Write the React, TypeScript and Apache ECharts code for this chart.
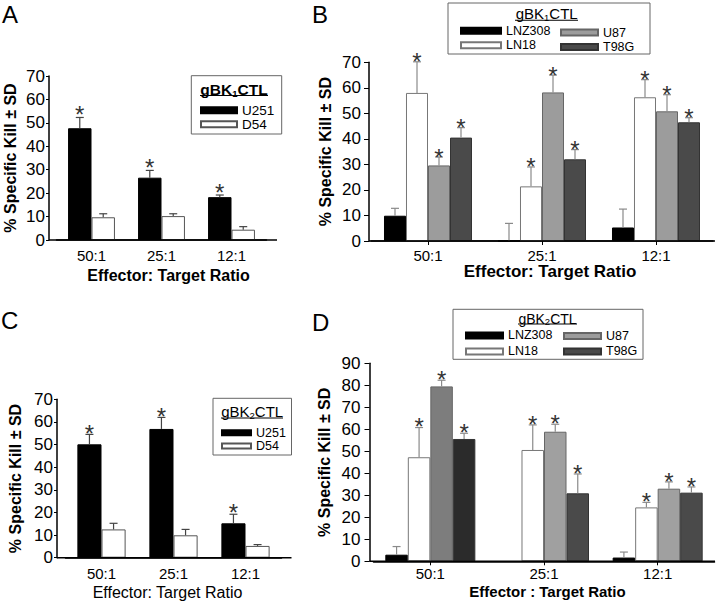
import React, { useEffect, useRef } from 'react';
import * as echarts from 'echarts';

// ---------- data ----------
const categories = ['50:1', '25:1', '12:1'];

// Panel A : gBK1CTL
const aU251 = [47.7, 26.6, 18.3];
const aU251Err = [4.6, 3.1, 0.9];
const aD54 = [9.7, 10.2, 4.4];
const aD54Err = [1.5, 1.0, 1.3];
const aSignificant = [true, false];

// Panel B : gBK1CTL
const bLNZ308 = [9.9, 0, 5.3];
const bLNZ308Err = [2.9, 6.9, 7.2];
const bLN18 = [58.0, 21.4, 56.3];
const bLN18Err = [12.2, 7.6, 6.9];
const bU87 = [29.6, 58.2, 50.8];
const bU87Err = [3.3, 6.8, 6.5];
const bT98G = [40.5, 32.0, 46.5];
const bT98GErr = [3.9, 3.8, 1.8];
const bSignificant = [false, true, true, true];

// Panel C : gBK2CTL
const cU251 = [50.1, 56.9, 15.2];
const cU251Err = [4.4, 5.1, 4.0];
const cD54 = [12.5, 9.9, 5.2];
const cD54Err = [2.7, 2.6, 0.6];
const cSignificant = [true, false];

// Panel D : gBK2CTL
const dLNZ308 = [3.0, null, 1.7];
const dLNZ308Err = [3.7, null, 2.5];
const dLN18 = [47.3, 50.6, 24.5];
const dLN18Err = [13.5, 11.4, 2.3];
const dU87 = [79.5, 58.9, 33.0];
const dU87Err = [2.8, 3.4, 3.1];
const dT98G = [55.6, 30.9, 31.2];
const dT98GErr = [2.6, 8.8, 2.6];
const dSignificant = [false, true, true, true];

const yTitle = '% Specific Kill ± SD';

// ---------- styling / layout ----------
const FONT = '"Liberation Sans", Arial, Helvetica, sans-serif';

type S = {
  name: string;
  values: (number | null)[];
  errs: (number | null)[];
  star: boolean;
  color: string;
  border: string;
  pointColors?: (string | null)[];
};

const panels: any[] = [
  {
    grid: { left: 56.5, top: 76, width: 210, height: 164 },
    yOffset: 7.5, yMax: 70, gap: 0.33, tickLen: 3, yLabelMargin: 4,
    xLabelMargin: 8, xTicks: false,
    xName: 'Effector: Target Ratio', xNameBold: true, xNameSize: 16, xNameGap: 27, xNameShift: 7,
    yNameGap: 31, errColor: '#444', starDy: 8.6, baselineRight: 277,
    series: [
      { name: 'U251', values: aU251, errs: aU251Err, star: aSignificant[0], color: '#000', border: '#000' },
      { name: 'D54', values: aD54, errs: aD54Err, star: aSignificant[1], color: '#fff', border: '#555' },
    ] as S[],
  },
  {
    grid: { left: 371, top: 62.3, width: 342, height: 178.7 },
    yOffset: 2, yMax: 70, gap: 0.228, tickLen: 5, yLabelMargin: 8,
    xLabelMargin: 6.5, xTicks: true,
    xName: 'Effector: Target Ratio', xNameBold: true, xNameSize: 17, xNameGap: 21.5, xNameShift: 8,
    yNameGap: 36, errColor: '#8a8a8a', starDy: 6, baselineRight: 715,
    series: [
      { name: 'LNZ308', values: bLNZ308, errs: bLNZ308Err, star: bSignificant[0], color: '#000', border: '#000' },
      { name: 'LN18', values: bLN18, errs: bLN18Err, star: bSignificant[1], color: '#fff', border: '#777' },
      { name: 'U87', values: bU87, errs: bU87Err, star: bSignificant[2], color: '#9c9c9c', border: '#666' },
      { name: 'T98G', values: bT98G, errs: bT98GErr, star: bSignificant[3], color: '#4a4a4a', border: '#333' },
    ] as S[],
  },
  {
    grid: { left: 65.5, top: 399.3, width: 216, height: 158.4 },
    yOffset: 8.5, yMax: 70, gap: 0.33, tickLen: 3, yLabelMargin: 4,
    xLabelMargin: 8.3, xTicks: false,
    xName: 'Effector: Target Ratio', xNameBold: false, xNameSize: 16, xNameGap: 26.3, xNameShift: -6,
    yNameGap: 34, errColor: '#444', starDy: 7.3, baselineRight: 291.5,
    series: [
      { name: 'U251', values: cU251, errs: cU251Err, star: cSignificant[0], color: '#000', border: '#000' },
      { name: 'D54', values: cD54, errs: cD54Err, star: cSignificant[1], color: '#fff', border: '#555' },
    ] as S[],
  },
  {
    grid: { left: 373.5, top: 363.3, width: 341, height: 198 },
    yOffset: 4, yMax: 90, gap: 0.208, tickLen: 5, yLabelMargin: 9,
    xLabelMargin: 4.7, xTicks: true,
    xName: 'Effector : Target Ratio', xNameBold: true, xNameSize: 15, xNameGap: 22.2, xNameShift: 3.5,
    yNameGap: 37.5, errColor: '#8a8a8a', starDy: 6.8, baselineRight: 715,
    series: [
      { name: 'LNZ308', values: dLNZ308, errs: dLNZ308Err, star: dSignificant[0], color: '#000', border: '#000' },
      { name: 'LN18', values: dLN18, errs: dLN18Err, star: dSignificant[1], color: '#fff', border: '#777' },
      { name: 'U87', values: dU87, errs: dU87Err, star: dSignificant[2], color: '#a0a0a0', border: '#666', pointColors: ['#7d7d7d', null, null] },
      { name: 'T98G', values: dT98G, errs: dT98GErr, star: dSignificant[3], color: '#4a4a4a', border: '#333', pointColors: ['#2b2b2b', null, null] },
    ] as S[],
  },
];

let measureCtx: CanvasRenderingContext2D | null = null;
function textWidth(text: string, size: number, bold: boolean) {
  if (!measureCtx) measureCtx = document.createElement('canvas').getContext('2d');
  if (!measureCtx) return text.length * size * 0.6;
  measureCtx.font = `${bold ? 'bold ' : ''}${size}px "Liberation Sans", Arial, sans-serif`;
  return measureCtx.measureText(text).width;
}

function buildOption() {
  const grid: any[] = [];
  const xAxis: any[] = [];
  const yAxis: any[] = [];
  const series: any[] = [];
  const graphic: any[] = [];

  panels.forEach((p, i) => {
    grid.push({ ...p.grid, containLabel: false });
    const shift = p.xNameShift;
    xAxis.push({
      type: 'category', gridIndex: i, data: categories,
      axisLine: { show: true, lineStyle: { color: '#000', width: 1.5 } },
      axisTick: { show: p.xTicks, alignWithLabel: true, length: 4, lineStyle: { color: '#000' } },
      axisLabel: { fontSize: 15, color: '#000', margin: p.xLabelMargin, fontFamily: FONT },
      name: p.xName, nameLocation: 'middle', nameGap: p.xNameGap,
      nameTextStyle: {
        fontSize: p.xNameSize, fontWeight: p.xNameBold ? 'bold' : 'normal', color: '#000', fontFamily: FONT,
        padding: shift >= 0 ? [0, 0, 0, 2 * shift] : [0, -2 * shift, 0, 0],
      },
    });
    yAxis.push({
      type: 'value', gridIndex: i, min: 0, max: p.yMax, interval: 10, offset: p.yOffset,
      axisLine: { show: true, lineStyle: { color: '#000', width: 1.5 } },
      axisTick: { show: true, length: p.tickLen, lineStyle: { color: '#000' } },
      splitLine: { show: false },
      axisLabel: { fontSize: 17, color: '#000', margin: p.yLabelMargin, fontFamily: FONT },
      name: yTitle, nameLocation: 'middle', nameGap: p.yNameGap,
      nameTextStyle: { fontSize: 16, fontWeight: 'bold', color: '#000', fontFamily: FONT },
    });

    const n = p.series.length;
    const gapPct = (p.gap * 100).toFixed(1) + '%';
    p.series.forEach((s: S) => {
      series.push({
        type: 'bar', name: s.name, xAxisIndex: i, yAxisIndex: i,
        barGap: '0%', barCategoryGap: gapPct, silent: true,
        itemStyle: { color: s.color, borderColor: s.border, borderWidth: 1 },
        data: s.values.map((v, j) =>
          s.pointColors && s.pointColors[j] ? { value: v, itemStyle: { color: s.pointColors[j] } } : v
        ),
        z: 2,
      });
    });

    const errData: number[][] = [];
    p.series.forEach((s: S, k: number) => {
      s.values.forEach((v, j) => {
        const e = s.errs[j];
        if (v != null && e != null) errData.push([j, v, e, k, s.star ? 1 : 0]);
      });
    });
    const gap = p.gap;
    const errColor = p.errColor;
    const starDy = p.starDy;
    series.push({
      type: 'custom', xAxisIndex: i, yAxisIndex: i, silent: true, z: 5,
      encode: { x: 0, y: 1 },
      data: errData,
      renderItem: (params: any, api: any) => {
        const j = api.value(0);
        const v = api.value(1);
        const e = api.value(2);
        const k = api.value(3);
        const st = api.value(4);
        const p0 = api.coord([j, v]);
        const p1 = api.coord([j, v + e]);
        const band = api.size([1, 0])[0];
        const bw = (band * (1 - gap)) / n;
        const x = p0[0] + (k - (n - 1) / 2) * bw;
        const children: any[] = [
          { type: 'line', shape: { x1: x, y1: p0[1], x2: x, y2: p1[1] }, style: { stroke: errColor, lineWidth: 1.2 } },
          { type: 'line', shape: { x1: x - 4, y1: p1[1], x2: x + 4, y2: p1[1] }, style: { stroke: errColor, lineWidth: 1.2 } },
        ];
        if (st) {
          children.push({
            type: 'text',
            style: {
              text: '*', x, y: p1[1] - starDy + 6, align: 'center', verticalAlign: 'middle',
              fontSize: 24, fontFamily: FONT, fill: '#333',
            },
          });
        }
        return { type: 'group', children };
      },
    });

    // full-width baseline (axis extends beyond the category bands)
    const by = p.grid.top + p.grid.height;
    graphic.push({
      type: 'line', silent: true, z: 10,
      shape: { x1: p.grid.left - p.yOffset, y1: by, x2: p.baselineRight, y2: by },
      style: { stroke: '#000', lineWidth: 1.5 },
    });
  });

  // panel letters
  const letters = [
    ['A', 2, 2], ['B', 312, 2], ['C', 1, 308], ['D', 312, 310],
  ];
  letters.forEach(([t, x, y]) => {
    graphic.push({
      type: 'text', silent: true,
      style: { text: t, x, y, verticalAlign: 'top', fontSize: 24, fontFamily: FONT, fill: '#000' },
    });
  });

  // legend boxes, titles (with subscript) and underlines
  const boxes = [
    { x: 191.3, y: 75.7, w: 90.4, h: 58.3, tx: 234, cy: 89.2, sub: '1', bold: true, fs: 15.5, subDy: 2.2, ul: [200, 268, 95.5] },
    { x: 448, y: 3, w: 202, h: 51, tx: 546.7, cy: 13.6, sub: '1', bold: false, fs: 15, subDy: 2, ul: [515, 578, 20.3] },
    { x: 213, y: 398.3, w: 78.5, h: 56.7, tx: 252.2, cy: 411.5, sub: '2', bold: false, fs: 15, subDy: 2.2, ul: [221, 283, 418] },
    { x: 453, y: 309.3, w: 190, h: 50, tx: 547.5, cy: 318.8, sub: '2', bold: false, fs: 14, subDy: 1.6, ul: [518, 577, 324] },
  ];
  boxes.forEach((b) => {
    graphic.push({
      type: 'rect', silent: true, z: 1,
      shape: { x: b.x, y: b.y, width: b.w, height: b.h },
      style: { fill: '#fff', stroke: '#666', lineWidth: 1 },
    });
    const fw = b.bold ? 'bold' : 'normal';
    const subSize = 9.5;
    const w1 = textWidth('gBK', b.fs, b.bold);
    const w2 = textWidth(b.sub, subSize, b.bold);
    const w3 = textWidth('CTL', b.fs, b.bold);
    const x0 = b.tx - (w1 + w2 + w3) / 2;
    const subY = b.cy + 0.3465 * b.fs + b.subDy - 0.3465 * subSize;
    const mk = (text: string, x: number, y: number, size: number) => ({
      type: 'text', silent: true, z: 3,
      style: { text, x, y, align: 'left', verticalAlign: 'middle', fontSize: size, fontWeight: fw, fontFamily: FONT, fill: '#000' },
    });
    graphic.push(mk('gBK', x0, b.cy, b.fs));
    graphic.push(mk(b.sub, x0 + w1, subY, subSize));
    graphic.push(mk('CTL', x0 + w1 + w2, b.cy, b.fs));
    graphic.push({
      type: 'line', silent: true, z: 3,
      shape: { x1: b.ul[0], y1: b.ul[2], x2: b.ul[1], y2: b.ul[2] },
      style: { stroke: '#000', lineWidth: 1.1 },
    });
  });

  // legend columns: first row centre, row spacing
  const lg = (left: number, firstCenter: number, spacing: number, data: string[], iw: number, ih: number, fs: number) => ({
    left, top: firstCenter - fs / 2, orient: 'vertical', padding: 0, itemGap: spacing - fs,
    itemWidth: iw, itemHeight: ih,
    icon: 'rect', selectedMode: false, z: 4, data,
    textStyle: { fontSize: fs, lineHeight: fs, color: '#000', fontFamily: FONT },
  });

  const legend = [
    lg(200, 110, 13.5, ['U251', 'D54'], 36, 6, 13.5),
    lg(460, 30.5, 14, ['LNZ308', 'LN18'], 40, 6, 12.5),
    lg(560, 32.3, 14, ['U87', 'T98G'], 37, 6, 12.5),
    lg(221, 432.5, 12.8, ['U251', 'D54'], 29, 5, 12.5),
    lg(465, 335.2, 15.5, ['LNZ308', 'LN18'], 37, 6, 12.5),
    lg(563, 335.7, 15, ['U87', 'T98G'], 37, 6, 12.5),
  ];

  return {
    animation: false,
    backgroundColor: '#fff',
    textStyle: { fontFamily: FONT },
    grid, xAxis, yAxis, series, legend, graphic,
  };
}

export default function App() {
  const ref = useRef<HTMLDivElement>(null);
  useEffect(() => {
    if (!ref.current) return;
    const chart = echarts.init(ref.current, null, { renderer: 'svg' });
    chart.setOption(buildOption() as any);
    return () => chart.dispose();
  }, []);
  return (
    <div
      ref={ref}
      style={{ position: 'fixed', left: 0, top: 0, width: 716, height: 603, background: '#fff' }}
    />
  );
}
